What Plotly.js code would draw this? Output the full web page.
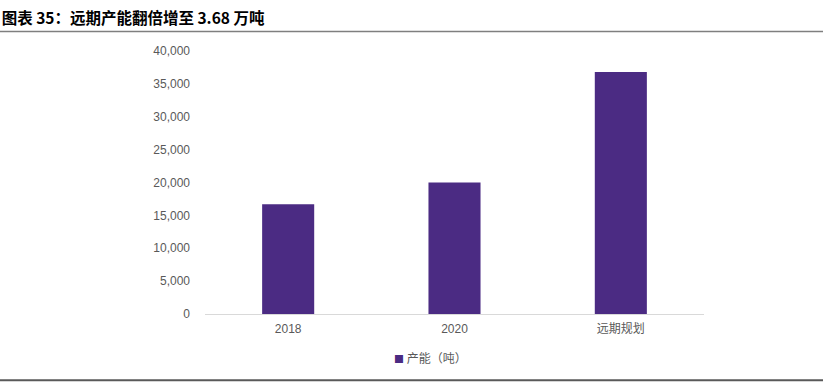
<!DOCTYPE html>
<html>
<head>
<meta charset="utf-8">
<script src="https://cdn.plot.ly/plotly-3.0.1.min.js"></script>
<style>html,body{margin:0;padding:0;background:#fff;}#chart{width:823px;height:385px;}</style>
</head>
<body>
<div id="chart"></div>
<script>
const categories = ['2018', '2020', '远期规划'];
const capacity = [16700, 20000, 36800];
const yTickVals = [0, 5000, 10000, 15000, 20000, 25000, 30000, 35000, 40000];
const yTickText = ['0', '5,000', '10,000', '15,000', '20,000', '25,000', '30,000', '35,000', '40,000'];
const seriesName = '产能（吨）';
const chartTitle = '图表 35：远期产能翻倍增至 3.68 万吨';
const barColor = '#4b2b83';

const trace = {
  type: 'bar',
  x: categories,
  y: capacity,
  name: seriesName,
  marker: {color: barColor},
  hoverinfo: 'x+y'
};

const layout = {
  width: 823, height: 385,
  margin: {l: 205, r: 119, t: 50.5, b: 70.5, pad: 0},
  paper_bgcolor: '#ffffff', plot_bgcolor: '#ffffff',
  font: {family: 'Liberation Sans, Arial, "Noto Sans CJK SC", sans-serif', size: 12, color: '#595959'},
  bargap: 0.687,
  showlegend: false,
  title: {
    text: '<b>' + chartTitle + '</b>',
    x: 0.002, xref: 'container', xanchor: 'left',
    y: 1 - 19 / 385, yref: 'container', yanchor: 'middle',
    font: {family: '"Noto Sans CJK SC", sans-serif', size: 15.5, color: '#000000'}
  },
  xaxis: {
    type: 'category',
    showgrid: false, zeroline: false,
    showline: true, linecolor: '#d9d9d9', linewidth: 1,
    ticks: '', tickfont: {family: 'Liberation Sans, Arial, "Noto Sans CJK SC", sans-serif', size: 12, color: '#595959'},
    ticklabelstandoff: 4
  },
  yaxis: {
    range: [0, 40000],
    tickvals: yTickVals, ticktext: yTickText,
    showgrid: false, zeroline: false, showline: false,
    ticks: '', ticklabelstandoff: 14,
    tickfont: {family: 'Liberation Sans, Arial, sans-serif', size: 12, color: '#595959'}
  },
  annotations: [
    {xref: 'paper', yref: 'paper', x: (392 - 205) / 498.7, y: (314.5 - 358) / 264,
     xanchor: 'left', yanchor: 'middle', showarrow: false,
     text: '<span style="color:' + barColor + ';font-size:10px">■</span> ' + seriesName,
     font: {family: '"Noto Sans CJK SC", sans-serif', size: 12, color: '#595959'}}
  ],
  shapes: [
    {type: 'line', xref: 'paper', yref: 'paper', x0: -0.42, x1: 1.25, y0: 1.074, y1: 1.074,
     line: {color: '#7f7f7f', width: 1.5}},
    {type: 'line', xref: 'paper', yref: 'paper', x0: -0.42, x1: 1.25, y0: -0.252, y1: -0.252,
     line: {color: '#595959', width: 2}}
  ]
};

Plotly.newPlot('chart', [trace], layout, {displayModeBar: false, staticPlot: true});
</script>
</body>
</html>
